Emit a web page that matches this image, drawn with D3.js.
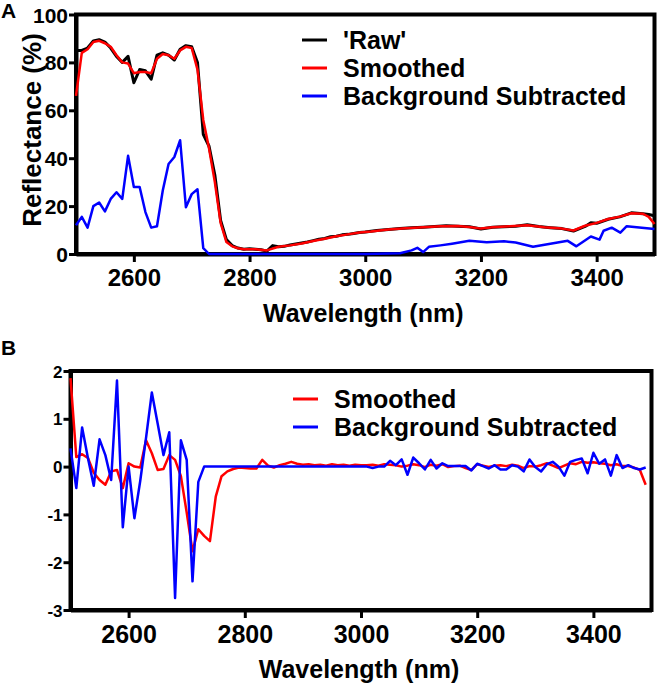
<!DOCTYPE html>
<html>
<head>
<meta charset="utf-8">
<script src="https://cdn.jsdelivr.net/npm/d3@7"></script>
<style>
  html, body { margin: 0; padding: 0; background: #fff; }
  svg text { font-family: "Liberation Sans", Arial, sans-serif; font-weight: bold; fill: #000; }
</style>
</head>
<body>
<svg id="chart" width="660" height="685"></svg>
<script>
// ---------------- DATA ----------------
// Panel A: reflectance (%)
const rawWl  = [2500,2510,2520,2530,2540,2550,2560,2570,2580,2590,2600,2610,2620,2630,2640,2650,2660,2670,2680,2690,2700,2710,2720,2730,2740,2750,2760,2770,2780,2790,2800,2810,2820,2830,2840,2850,2860,2870,2880,2890,2900,2910,2920,2930,2940,2950,2960,2970,2980,2990,3000,3020,3040,3060,3080,3100,3120,3140,3160,3180,3200,3220,3240,3260,3280,3300,3320,3340,3360,3380,3390,3400,3420,3440,3460,3480,3490,3500];
const rawVal = [85,85,86,89,89.5,88.5,86,82.5,80,82.5,71.5,77,76.5,73,83,84,83,81,85.5,87,86.5,80,50,45,33,14,6,3.5,2.5,2,2.2,2,1.8,1.2,3.5,3,3.2,3.8,4.2,4.6,5,5.6,6.2,6.5,7.2,7.4,8,8.2,8.6,9,9.2,9.8,10.2,10.6,11,11.2,11.5,11.8,11.6,11.4,10.4,11.2,11.4,11.6,12.2,11.5,11,10.6,9.6,11.5,13,12.8,14.5,15.5,17.2,16.8,16.5,16];

const smWl  = [2500,2510,2520,2530,2540,2550,2560,2570,2580,2590,2600,2610,2620,2630,2640,2650,2660,2670,2680,2690,2700,2710,2720,2730,2740,2750,2760,2770,2780,2790,2810,2830,2850,2870,2890,2910,2930,2950,2970,2990,3010,3040,3070,3100,3130,3160,3180,3200,3220,3250,3280,3310,3340,3360,3380,3400,3420,3440,3460,3480,3490,3500];
const smVal = [66,84,85.5,88.5,89,88,86.5,83,80,79.5,75.5,76,76,75.5,81.5,83.5,83,81.5,85,86.5,86,77,56,44,30,13,5,3.2,2.4,2,2,1.5,3,3.6,4.4,5.4,6.4,7.4,8.2,9,9.4,10.2,10.8,11.2,11.6,11.7,11.3,10.6,11.2,11.6,12,11.2,10.6,9.8,11.8,13,14.6,15.6,17,16.8,15.5,12.5];

const bgWl  = [2500,2510,2520,2530,2540,2550,2560,2570,2580,2590,2600,2610,2620,2630,2640,2650,2660,2670,2680,2690,2700,2710,2720,2730,2800,2900,3000,3060,3080,3090,3100,3110,3130,3150,3180,3210,3240,3260,3290,3320,3350,3365,3390,3405,3412,3426,3441,3452,3478,3500];
const bgVal = [12,15.5,11,20,21.5,17.8,23,25.8,23,41,28,28,17.5,11,11.6,26.5,37.6,40.5,47.5,19.5,25,27,2.5,0,0,0,0,0.3,1.5,2.6,0.8,3,3.6,4.3,5.5,4.9,5.3,4.8,3,4.3,5.5,3.2,7.3,6,9.7,11,8.9,11.6,11,10.4];

// Panel B: derivative
const dWl = [2500,2510,2520,2530,2540,2550,2560,2570,2580,2590,2600,2610,2620,2630,2640,2650,2660,2670,2680,2690,2700,2710,2720,2730,2740,2750,2760,2770,2780,2790,2800,2810,2820,2830,2840,2850,2860,2870,2880,2890,2900,2910,2920,2930,2940,2950,2960,2970,2980,2990,3000,3010,3020,3030,3040,3050,3060,3070,3080,3090,3100,3110,3120,3130,3140,3150,3160,3170,3180,3190,3200,3210,3220,3230,3240,3250,3260,3270,3280,3290,3300,3310,3320,3330,3340,3350,3360,3370,3380,3390,3400,3410,3420,3430,3440,3450,3460,3470,3480,3490];
const smDeriv = [1.85,0.2,0.26,0.18,-0.13,-0.28,-0.38,-0.1,-0.07,-0.45,0.07,0,-0.02,0.55,0.28,-0.07,-0.05,0.24,0.14,-0.2,-0.96,-1.77,-1.31,-1.45,-1.56,-0.63,-0.2,-0.1,-0.05,-0.02,-0.03,-0.04,-0.04,0.14,0.02,-0.02,0.03,0.06,0.1,0.06,0.04,0.05,0.03,0.04,0.02,0.05,0.03,0.04,0.02,0.04,0.03,0.03,0.04,0.02,0.05,0.04,0.03,0,0.02,0.05,0.03,-0.01,0.04,0.02,0.05,-0.01,0.01,0.02,-0.03,-0.07,0.05,0.02,-0.01,0.02,0.03,0.01,0.04,0.02,-0.03,0.01,0,0.03,0.07,0.02,-0.03,0.02,0.07,0.05,0.1,0.08,0.09,0.07,0.06,0.03,0.05,0.01,0.01,-0.02,-0.07,-0.38];
const bgDeriv = [0.38,-0.45,0.82,0.18,-0.4,0.57,0.24,-0.28,1.8,-1.27,0,-1.08,-0.3,0.6,1.55,0.9,0.24,0.72,-2.75,0.55,0.14,-2.4,-0.32,0,0,0,0,0,0,0,0,0,0,0,0,0,0,0,0,0,0,0,0,0,0,0,0,0,0,0,0,0,-0.03,0,0,0.12,0.03,0.15,-0.17,0.19,0.07,-0.06,0.14,-0.04,0.07,0.01,0.01,0.01,0.01,-0.08,0.06,0.01,-0.04,0.03,-0.06,-0.06,0.03,0,-0.1,0.15,-0.01,-0.1,0.05,0.1,0,-0.19,0.1,0.14,0.17,-0.14,0.29,0.06,0.15,-0.19,0.24,-0.03,0.03,-0.03,-0.06,-0.02];

const xTicks = [2600,2800,3000,3200,3400];
const yTicksA = [0,20,40,60,80,100];
const yTicksB = [-3,-2,-1,0,1,2];
const legendA = ["'Raw'","Smoothed","Background Subtracted"];
const legendB = ["Smoothed","Background Subtracted"];

// ---------------- DRAW ----------------
const svg = d3.select("#chart");
const BLACK = "#000", RED = "#ff0000", BLUE = "#0000ff";
const fmt = d => String(d);   // plain hyphen-minus, as in the original

function zip(w, v) { return w.map((d, i) => [d, v[i]]); }

function panel(cfg) {
  const x = d3.scaleLinear().domain([2500, 3500]).range([cfg.left, cfg.right]);
  const y = d3.scaleLinear().domain(cfg.yDomain).range([cfg.bottom, cfg.top]);
  const g = svg.append("g");

  // frame
  g.append("rect")
    .attr("x", cfg.left).attr("y", cfg.top)
    .attr("width", cfg.right - cfg.left).attr("height", cfg.bottom - cfg.top)
    .attr("fill", "none").attr("stroke", BLACK).attr("stroke-width", 4);

  // x axis
  const xa = g.append("g").attr("transform", `translate(0,${cfg.bottom})`)
    .call(d3.axisBottom(x).tickValues(xTicks).tickSize(8).tickSizeOuter(0).tickPadding(7).tickFormat(fmt));
  xa.select(".domain").attr("stroke-width", 4);
  xa.selectAll(".tick line").attr("stroke-width", 3);
  xa.selectAll("text").style("font-size", cfg.xTickFont + "px").attr("fill", BLACK);

  // y axis
  const ya = g.append("g").attr("transform", `translate(${cfg.left},0)`)
    .call(d3.axisLeft(y).tickValues(cfg.yTicks).tickSize(7).tickSizeOuter(0).tickPadding(1).tickFormat(fmt));
  ya.select(".domain").attr("stroke-width", 4);
  ya.selectAll(".tick line").attr("stroke-width", 3);
  ya.selectAll("text").style("font-size", cfg.yTickFont + "px").attr("fill", BLACK).attr("dy", "0.36em");

  // x title
  g.append("text").attr("x", (cfg.left + cfg.right) / 2 - 2).attr("y", cfg.bottom + 68)
    .attr("text-anchor", "middle").style("font-size", "25px").text("Wavelength (nm)");

  // panel letter
  g.append("text").attr("x", 1).attr("y", cfg.letterY).style("font-size", "21px").text(cfg.letter);

  const line = d3.line().x(d => x(d[0])).y(d => y(d[1]));
  cfg.series.forEach(s => {
    g.append("path").datum(zip(s.w, s.v))
      .attr("fill", "none").attr("stroke", s.color).attr("stroke-width", s.width || 2.5)
      .attr("stroke-linejoin", "round").attr("d", line);
  });

  // legend
  cfg.legend.forEach((l, i) => {
    const ly = cfg.legY + i * 28;
    g.append("line").attr("x1", cfg.legX).attr("x2", cfg.legX + 25)
      .attr("y1", ly).attr("y2", ly).attr("stroke", l.color).attr("stroke-width", 3);
    g.append("text").attr("x", cfg.legX + 41).attr("y", ly + 9)
      .style("font-size", "25px").text(l.label);
  });
  return { x, y, g };
}

const A = panel({
  left: 76, right: 654.5, top: 14.5, bottom: 254,
  yDomain: [0, 100], yTicks: yTicksA, xTickFont: 24, yTickFont: 21,
  letter: "A", letterY: 18,
  series: [
    { w: rawWl, v: rawVal, color: BLACK, width: 3 },
    { w: smWl, v: smVal, color: RED, width: 2.5 },
    { w: bgWl, v: bgVal, color: BLUE, width: 2.5 }
  ],
  legend: [
    { label: legendA[0], color: BLACK },
    { label: legendA[1], color: RED },
    { label: legendA[2], color: BLUE }
  ],
  legX: 302, legY: 40
});

svg.append("text").attr("transform", "translate(41,130) rotate(-90)")
  .attr("text-anchor", "middle").style("font-size", "26px").text("Reflectance (%)");

const B = panel({
  left: 70.5, right: 651.5, top: 371, bottom: 610,
  yDomain: [-3, 2], yTicks: yTicksB, xTickFont: 25, yTickFont: 17,
  letter: "B", letterY: 355,
  series: [
    { w: dWl, v: smDeriv, color: RED, width: 2.5 },
    { w: dWl, v: bgDeriv, color: BLUE, width: 2.5 }
  ],
  legend: [
    { label: legendB[0], color: RED },
    { label: legendB[1], color: BLUE }
  ],
  legX: 293, legY: 399
});
</script>
</body>
</html>
